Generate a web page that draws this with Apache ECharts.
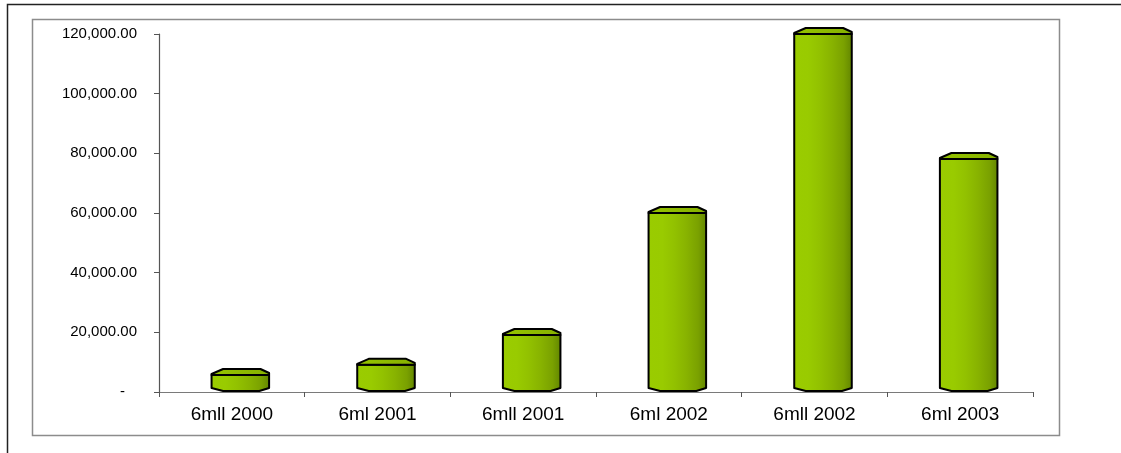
<!DOCTYPE html>
<html>
<head>
<meta charset="utf-8">
<script src="https://cdn.jsdelivr.net/npm/echarts@6/dist/echarts.min.js"></script>
<style>
  html, body { margin: 0; padding: 0; background: #ffffff; }
  #chart { width: 1121px; height: 453px; }
</style>
</head>
<body>
<div id="chart"></div>
<script>
// Categories and values
const categories = ['6mll 2000', '6ml 2001', '6mll 2001', '6ml 2002', '6mll 2002', '6ml 2003'];
const values = [5700, 9100, 19100, 60000, 120000, 78100];
const yTicks = [0, 20000, 40000, 60000, 80000, 100000, 120000];

const chart = echarts.init(document.getElementById('chart'), null, { renderer: 'canvas' });

function fmt(v) {
  if (v === 0) return '{dash|-}';
  return v.toLocaleString('en-US', { minimumFractionDigits: 2, maximumFractionDigits: 2 });
}

// Cylinder-like body colour, light on the left, darker on the right
const bodyFill = {
  type: 'linear', x: 0, y: 0, x2: 1, y2: 0,
  colorStops: [
    { offset: 0.00, color: '#9acc00' },
    { offset: 0.25, color: '#99cb00' },
    { offset: 0.45, color: '#92c100' },
    { offset: 0.65, color: '#88b300' },
    { offset: 0.85, color: '#7aa100' },
    { offset: 1.00, color: '#618400' }
  ]
};
const capFill = {
  type: 'linear', x: 0, y: 0, x2: 1, y2: 0,
  colorStops: [
    { offset: 0, color: '#96c400' },
    { offset: 1, color: '#86b000' }
  ]
};

// The 3D projection pushes each cylinder slightly right of its category centre
const DEPTH_SHIFT = 8.5;

function renderCylinder(params, api) {
  const cat = api.value(0);
  const v = api.value(1);
  const top = api.coord([cat, v]);
  const base = api.coord([cat, 0]);
  const w = api.size([1, 0])[0] * 0.395;
  const cx = top[0] + DEPTH_SHIFT;
  const x0 = cx - w / 2;
  const x1 = cx + w / 2;
  const yf = top[1];
  const yb = base[1];
  const body = [
    [x0, yf], [x1, yf], [x1, yb - 4],
    [x1 - 0.17 * w, yb - 1], [x0 + 0.2 * w, yb - 1], [x0, yb - 4]
  ];
  const cap = [
    [x0, yf - 1], [x0 + 0.2 * w, yf - 6], [x1 - 0.15 * w, yf - 6],
    [x1, yf - 2], [x1, yf], [x0, yf]
  ];
  return {
    type: 'group',
    children: [
      { type: 'polygon', shape: { points: body },
        style: { fill: bodyFill, stroke: '#000000', lineWidth: 2, lineJoin: 'round' } },
      { type: 'polygon', shape: { points: cap },
        style: { fill: capFill, stroke: '#000000', lineWidth: 2, lineJoin: 'round' } }
    ]
  };
}

chart.setOption({
  animation: false,
  backgroundColor: '#ffffff',
  graphic: [
    // outer frame (top and left edges visible)
    { type: 'polyline', shape: { points: [[7.5, 453], [7.5, 4.5], [1121, 4.5]] },
      style: { stroke: '#222222', lineWidth: 1.5, fill: null }, silent: true },
    // plot area frame
    { type: 'rect', shape: { x: 32.5, y: 19.5, width: 1027, height: 416 },
      style: { stroke: '#8c8c8c', lineWidth: 1.5, fill: null }, silent: true }
  ],
  grid: { left: 159, right: 88, top: 34, bottom: 61, containLabel: false },
  xAxis: {
    type: 'category',
    data: categories,
    boundaryGap: true,
    axisLine: { lineStyle: { color: '#7a7a7a', width: 1.2 } },
    axisTick: { show: true, length: 5, inside: false, alignWithLabel: false,
      lineStyle: { color: '#555555', width: 1 } },
    axisLabel: { color: '#000000', fontFamily: 'Liberation Sans, Arial, sans-serif',
      fontSize: 19, margin: 13, interval: 0 },
    splitLine: { show: false }
  },
  yAxis: {
    type: 'value',
    min: 0, max: 120000, interval: 20000,
    axisLine: { show: true, lineStyle: { color: '#555555', width: 1.2 } },
    axisTick: { show: true, length: 5, lineStyle: { color: '#555555', width: 1 } },
    axisLabel: {
      color: '#000000', fontFamily: 'Liberation Sans, Arial, sans-serif',
      fontSize: 15, margin: 22,
      formatter: fmt,
      customValues: yTicks,
      rich: { dash: { fontSize: 15, color: '#000000', padding: [0, 12, 0, 0] } }
    },
    splitLine: { show: false }
  },
  series: [{
    type: 'custom',
    renderItem: renderCylinder,
    clip: false,
    encode: { x: 0, y: 1 },
    data: values.map((v, i) => [i, v])
  }]
});
</script>
</body>
</html>
